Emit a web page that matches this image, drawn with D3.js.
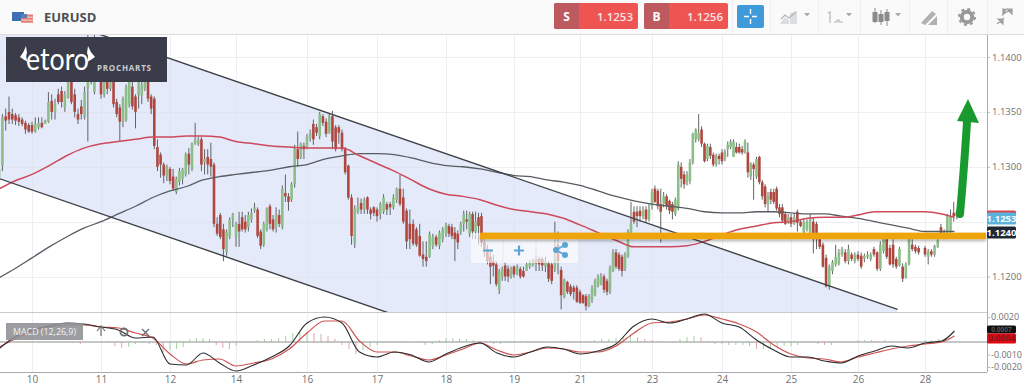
<!DOCTYPE html>
<html>
<head>
<meta charset="utf-8">
<script src="https://cdn.jsdelivr.net/npm/d3@7"></script>
<style>
  html, body { margin: 0; background: #fff; }
  svg { display: block; font-family: "Open Sans", sans-serif; }
</style>
</head>
<body>
<svg id="chart" width="1024" height="385"></svg>
<script>
// session labels on the time axis
const sessionLabels = ["10", "11", "12", "14", "16", "17", "18", "19", "21", "23", "24", "25", "26", "28"];
const gridPrices = [1.14, 1.135, 1.13, 1.125, 1.12];
// 1.1250 and 0.0010 sit under the price tags so they get no label
const priceTicks = [1.14, 1.135, 1.13, 1.12];
const macdTicks = [0.002, -0.001, -0.002];

// candles as [open, high, low, close], one array per session
const session09 = [
  [1.1290,1.1302,1.1268,1.1298],[1.1301,1.1348,1.1296,1.1345],[1.1346,1.1353,1.1333,1.1342],[1.1350,1.1364,1.1339,1.1343],
  [1.1348,1.1353,1.1339,1.1343],[1.1347,1.1349,1.1338,1.1342],[1.1345,1.1348,1.1337,1.1341],[1.1343,1.1345,1.1337,1.1339],
  [1.1340,1.1342,1.1330,1.1334],[1.1338,1.1340,1.1331,1.1332]];
const session10 = [
  [1.1338,1.1341,1.1330,1.1332],[1.1332,1.1345,1.1331,1.1339],[1.1336,1.1345,1.1334,1.1340],[1.1340,1.1345,1.1335,1.1336],
  [1.1339,1.1343,1.1339,1.1342],[1.1341,1.1368,1.1340,1.1359],[1.1360,1.1366,1.1343,1.1350],[1.1350,1.1362,1.1343,1.1357],
  [1.1366,1.1371,1.1357,1.1359],[1.1369,1.1373,1.1354,1.1359],[1.1354,1.1369,1.1350,1.1366],[1.1363,1.1385,1.1362,1.1380],
  [1.1389,1.1394,1.1357,1.1359],[1.1366,1.1371,1.1345,1.1350],[1.1348,1.1353,1.1339,1.1343],[1.1355,1.1361,1.1343,1.1348],
  [1.1345,1.1373,1.1343,1.1368],[1.1371,1.1420,1.1323,1.1385],[1.1388,1.1391,1.1375,1.1380],[1.1368,1.1420,1.1366,1.1388]];
const session11 = [
  [1.1385,1.1390,1.1362,1.1366],[1.1366,1.1390,1.1363,1.1385],[1.1388,1.1391,1.1366,1.1371],[1.1371,1.1394,1.1369,1.1390],
  [1.1382,1.1394,1.1354,1.1357],[1.1359,1.1362,1.1345,1.1348],[1.1354,1.1357,1.1323,1.1341],[1.1341,1.1364,1.1336,1.1362],
  [1.1343,1.1375,1.1341,1.1373],[1.1357,1.1380,1.1354,1.1378],[1.1373,1.1378,1.1352,1.1355],[1.1364,1.1366,1.1335,1.1350],
  [1.1365,1.1380,1.1353,1.1378],[1.1365,1.1378,1.1357,1.1375],[1.1371,1.1381,1.1369,1.1380],[1.1385,1.1387,1.1359,1.1362],
  [1.1364,1.1366,1.1348,1.1353],[1.1362,1.1364,1.1316,1.1319],[1.1318,1.1325,1.1296,1.1300],[1.1311,1.1313,1.1290,1.1302],
  [1.1302,1.1304,1.1285,1.1292],[1.1291,1.1302,1.1287,1.1300]];
const session12 = [
  [1.1298,1.1300,1.1284,1.1287],[1.1291,1.1298,1.1278,1.1280],[1.1277,1.1291,1.1275,1.1289],[1.1286,1.1299,1.1283,1.1296],
  [1.1289,1.1299,1.1284,1.1298],[1.1293,1.1313,1.1291,1.1311],[1.1312,1.1317,1.1293,1.1302],[1.1298,1.1322,1.1296,1.1321],
  [1.1321,1.1340,1.1320,1.1325],[1.1321,1.1327,1.1319,1.1324],[1.1325,1.1327,1.1296,1.1302],[1.1304,1.1316,1.1293,1.1307],
  [1.1309,1.1316,1.1293,1.1302],[1.1307,1.1322,1.1291,1.1300],[1.1302,1.1304,1.1245,1.1248],[1.1248,1.1254,1.1237,1.1239],
  [1.1256,1.1258,1.1234,1.1236],[1.1243,1.1248,1.1214,1.1225],[1.1222,1.1243,1.1219,1.1241],[1.1236,1.1254,1.1234,1.1252],
  [1.1252,1.1258,1.1245,1.1257]];
const session14 = [
  [1.1236,1.1250,1.1227,1.1248],[1.1248,1.1259,1.1227,1.1241],[1.1254,1.1259,1.1241,1.1243],[1.1250,1.1256,1.1240,1.1243],
  [1.1245,1.1259,1.1241,1.1256],[1.1252,1.1262,1.1249,1.1258],[1.1260,1.1267,1.1258,1.1263],[1.1261,1.1263,1.1235,1.1237],
  [1.1241,1.1243,1.1225,1.1228],[1.1229,1.1250,1.1227,1.1248],[1.1243,1.1263,1.1241,1.1262],[1.1264,1.1266,1.1243,1.1248],
  [1.1252,1.1256,1.1241,1.1243],[1.1245,1.1263,1.1240,1.1257],[1.1256,1.1261,1.1245,1.1248],[1.1245,1.1283,1.1243,1.1280],
  [1.1276,1.1293,1.1268,1.1273],[1.1273,1.1276,1.1260,1.1268],[1.1270,1.1286,1.1268,1.1284],[1.1284,1.1320,1.1281,1.1316],
  [1.1316,1.1332,1.1300,1.1307],[1.1309,1.1322,1.1307,1.1321],[1.1319,1.1322,1.1307,1.1316]];
const session16 = [
  [1.1318,1.1330,1.1316,1.1327],[1.1326,1.1334,1.1323,1.1331],[1.1339,1.1343,1.1320,1.1325],[1.1336,1.1339,1.1328,1.1331],
  [1.1328,1.1350,1.1325,1.1348],[1.1346,1.1348,1.1337,1.1340],[1.1341,1.1344,1.1327,1.1330],[1.1331,1.1348,1.1330,1.1346],
  [1.1346,1.1351,1.1316,1.1323],[1.1336,1.1338,1.1314,1.1316],[1.1336,1.1338,1.1321,1.1331],[1.1331,1.1334,1.1314,1.1316],
  [1.1316,1.1318,1.1293,1.1295],[1.1301,1.1302,1.1270,1.1272],[1.1272,1.1275,1.1229,1.1237],[1.1230,1.1265,1.1226,1.1262],
  [1.1259,1.1272,1.1257,1.1264],[1.1267,1.1271,1.1257,1.1261],[1.1261,1.1272,1.1257,1.1270],[1.1272,1.1273,1.1257,1.1261],
  [1.1261,1.1263,1.1252,1.1257],[1.1263,1.1264,1.1255,1.1258]];
const session17 = [
  [1.1261,1.1263,1.1250,1.1255],[1.1257,1.1268,1.1252,1.1266],[1.1259,1.1275,1.1257,1.1272],[1.1266,1.1268,1.1256,1.1261],
  [1.1266,1.1268,1.1256,1.1263],[1.1263,1.1275,1.1261,1.1272],[1.1270,1.1281,1.1267,1.1280],[1.1280,1.1293,1.1264,1.1266],
  [1.1272,1.1280,1.1248,1.1250],[1.1260,1.1262,1.1225,1.1232],[1.1248,1.1261,1.1225,1.1234],[1.1248,1.1252,1.1228,1.1230],
  [1.1243,1.1245,1.1227,1.1229],[1.1237,1.1248,1.1218,1.1219],[1.1220,1.1232,1.1209,1.1216],[1.1218,1.1232,1.1209,1.1214],
  [1.1218,1.1241,1.1217,1.1239],[1.1228,1.1239,1.1225,1.1236],[1.1236,1.1238,1.1227,1.1229],[1.1228,1.1242,1.1225,1.1240],
  [1.1234,1.1245,1.1231,1.1243]];
const session18 = [
  [1.1239,1.1249,1.1236,1.1247],[1.1246,1.1248,1.1236,1.1239],[1.1245,1.1248,1.1234,1.1237],[1.1240,1.1245,1.1214,1.1234],
  [1.1239,1.1242,1.1225,1.1231],[1.1241,1.1250,1.1238,1.1248],[1.1248,1.1260,1.1241,1.1257],[1.1252,1.1260,1.1243,1.1250],
  [1.1239,1.1259,1.1236,1.1257],[1.1257,1.1259,1.1234,1.1241],[1.1241,1.1259,1.1234,1.1250],[1.1254,1.1258,1.1229,1.1246],
  [1.1255,1.1258,1.1227,1.1231],[1.1231,1.1238,1.1218,1.1225],[1.1225,1.1229,1.1211,1.1214],[1.1218,1.1225,1.1193,1.1209],
  [1.1214,1.1220,1.1200,1.1210],[1.1211,1.1214,1.1191,1.1193],[1.1188,1.1207,1.1184,1.1205],[1.1200,1.1209,1.1196,1.1207],
  [1.1210,1.1213,1.1196,1.1200],[1.1207,1.1210,1.1195,1.1200],[1.1200,1.1209,1.1198,1.1207]];
const session19 = [
  [1.1209,1.1210,1.1199,1.1202],[1.1203,1.1211,1.1201,1.1209],[1.1207,1.1209,1.1198,1.1200],[1.1205,1.1209,1.1199,1.1200],
  [1.1205,1.1213,1.1205,1.1211],[1.1209,1.1215,1.1207,1.1213],[1.1210,1.1216,1.1209,1.1214],[1.1216,1.1220,1.1205,1.1212],
  [1.1216,1.1218,1.1205,1.1211],[1.1216,1.1218,1.1205,1.1210],[1.1209,1.1218,1.1204,1.1214],[1.1212,1.1214,1.1195,1.1198],
  [1.1211,1.1213,1.1193,1.1196],[1.1207,1.1250,1.1204,1.1218],[1.1229,1.1241,1.1202,1.1214],[1.1206,1.1209,1.1170,1.1183],
  [1.1181,1.1198,1.1180,1.1197],[1.1195,1.1196,1.1184,1.1186],[1.1191,1.1193,1.1182,1.1184],[1.1190,1.1192,1.1179,1.1186],
  [1.1190,1.1192,1.1176,1.1177]];
const session21 = [
  [1.1186,1.1188,1.1175,1.1176],[1.1183,1.1184,1.1175,1.1176],[1.1182,1.1184,1.1169,1.1173],[1.1173,1.1184,1.1172,1.1182],
  [1.1179,1.1192,1.1176,1.1189],[1.1184,1.1198,1.1182,1.1196],[1.1191,1.1202,1.1190,1.1200],[1.1193,1.1203,1.1192,1.1200],
  [1.1200,1.1202,1.1185,1.1188],[1.1196,1.1198,1.1183,1.1186],[1.1187,1.1210,1.1184,1.1208],[1.1205,1.1225,1.1204,1.1222],
  [1.1222,1.1225,1.1207,1.1209],[1.1220,1.1222,1.1205,1.1207],[1.1218,1.1220,1.1200,1.1205],[1.1207,1.1222,1.1205,1.1220],
  [1.1218,1.1243,1.1217,1.1241],[1.1239,1.1268,1.1237,1.1248],[1.1259,1.1264,1.1248,1.1250],[1.1259,1.1264,1.1245,1.1255],
  [1.1260,1.1264,1.1250,1.1255],[1.1255,1.1264,1.1252,1.1260],[1.1261,1.1264,1.1249,1.1252],[1.1252,1.1266,1.1250,1.1261]];
const session23 = [
  [1.1264,1.1280,1.1261,1.1277],[1.1280,1.1283,1.1267,1.1268],[1.1278,1.1280,1.1261,1.1264],[1.1266,1.1280,1.1231,1.1259],
  [1.1266,1.1277,1.1263,1.1273],[1.1273,1.1275,1.1261,1.1264],[1.1269,1.1270,1.1257,1.1260],[1.1266,1.1268,1.1252,1.1259],
  [1.1257,1.1272,1.1255,1.1270],[1.1262,1.1305,1.1260,1.1302],[1.1300,1.1304,1.1281,1.1289],[1.1293,1.1296,1.1280,1.1284],
  [1.1286,1.1296,1.1283,1.1293],[1.1287,1.1307,1.1284,1.1304],[1.1304,1.1331,1.1302,1.1330],[1.1325,1.1335,1.1322,1.1334],
  [1.1325,1.1348,1.1323,1.1331],[1.1334,1.1337,1.1318,1.1321],[1.1321,1.1322,1.1304,1.1305],[1.1307,1.1321,1.1305,1.1319],
  [1.1318,1.1321,1.1307,1.1310],[1.1311,1.1313,1.1300,1.1302],[1.1302,1.1312,1.1300,1.1310],[1.1310,1.1312,1.1302,1.1307]];
const session24 = [
  [1.1313,1.1316,1.1302,1.1305],[1.1307,1.1316,1.1305,1.1314],[1.1316,1.1323,1.1309,1.1320],[1.1318,1.1325,1.1316,1.1323],
  [1.1309,1.1325,1.1309,1.1323],[1.1318,1.1322,1.1312,1.1313],[1.1318,1.1321,1.1312,1.1313],[1.1316,1.1319,1.1311,1.1313],
  [1.1313,1.1325,1.1312,1.1323],[1.1313,1.1322,1.1290,1.1295],[1.1291,1.1304,1.1288,1.1303],[1.1302,1.1304,1.1270,1.1298],
  [1.1291,1.1309,1.1289,1.1307],[1.1309,1.1310,1.1284,1.1286],[1.1286,1.1288,1.1270,1.1273],[1.1282,1.1284,1.1263,1.1266],
  [1.1266,1.1277,1.1259,1.1273],[1.1277,1.1280,1.1266,1.1270],[1.1277,1.1280,1.1266,1.1268],[1.1280,1.1282,1.1260,1.1262],
  [1.1263,1.1266,1.1254,1.1257],[1.1263,1.1266,1.1249,1.1251],[1.1257,1.1259,1.1247,1.1248],[1.1250,1.1257,1.1248,1.1254]];
const session25 = [
  [1.1254,1.1257,1.1245,1.1248],[1.1248,1.1257,1.1247,1.1254],[1.1259,1.1261,1.1241,1.1249],[1.1250,1.1252,1.1245,1.1246],
  [1.1240,1.1252,1.1238,1.1250],[1.1243,1.1252,1.1241,1.1250],[1.1240,1.1257,1.1238,1.1254],[1.1250,1.1254,1.1221,1.1234],
  [1.1248,1.1250,1.1225,1.1234],[1.1234,1.1238,1.1225,1.1227],[1.1229,1.1231,1.1208,1.1209],[1.1217,1.1220,1.1190,1.1191],
  [1.1191,1.1211,1.1188,1.1209],[1.1205,1.1215,1.1202,1.1213],[1.1211,1.1229,1.1209,1.1218],[1.1211,1.1225,1.1210,1.1222],
  [1.1220,1.1227,1.1218,1.1225],[1.1222,1.1225,1.1212,1.1214],[1.1214,1.1229,1.1211,1.1225],[1.1220,1.1222,1.1214,1.1216],
  [1.1214,1.1222,1.1212,1.1220]];
const session26 = [
  [1.1220,1.1223,1.1214,1.1216],[1.1219,1.1222,1.1207,1.1209],[1.1216,1.1221,1.1213,1.1219],[1.1218,1.1223,1.1216,1.1220],
  [1.1216,1.1222,1.1214,1.1220],[1.1225,1.1227,1.1218,1.1220],[1.1222,1.1223,1.1205,1.1207],[1.1207,1.1232,1.1205,1.1229],
  [1.1223,1.1236,1.1221,1.1234],[1.1234,1.1239,1.1216,1.1218],[1.1226,1.1229,1.1210,1.1211],[1.1229,1.1234,1.1208,1.1211],
  [1.1216,1.1218,1.1207,1.1209],[1.1210,1.1227,1.1209,1.1225],[1.1209,1.1212,1.1195,1.1198],[1.1199,1.1213,1.1198,1.1211],
  [1.1211,1.1236,1.1210,1.1234],[1.1229,1.1234,1.1223,1.1225],[1.1227,1.1229,1.1221,1.1223],[1.1226,1.1228,1.1220,1.1222]];
const session28 = [
  [1.1226,1.1228,1.1218,1.1220],[1.1218,1.1225,1.1211,1.1223],[1.1223,1.1225,1.1218,1.1220],[1.1220,1.1229,1.1218,1.1228],
  [1.1227,1.1234,1.1226,1.1233],[1.1245,1.1248,1.1236,1.1239],[1.1239,1.1243,1.1234,1.1241],[1.1240,1.1257,1.1237,1.1255],
  [1.1241,1.1261,1.1239,1.1255],[1.1258,1.1268,1.1250,1.1255],[1.1259,1.1261,1.1252,1.1255]];

// moving averages, one value per quarter session starting half a session before "10"
const slowAverage = [
  1.1198,1.1207,1.1217,1.1227,1.1236,1.1244,1.1250,1.1257,1.1264,1.1272,1.1278,1.1282,1.1288,1.1291,1.1293,1.1295,
  1.1297,1.1300,1.1302,1.1307,1.1310,1.1312,1.1312,1.1311,1.1308,1.1304,1.1301,1.1300,1.1298,1.1295,1.1292,1.1291,
  1.1288,1.1286,1.1283,1.1278,1.1273,1.1269,1.1266,1.1264,1.1262,1.1259,1.1258,1.1258,1.1259,1.1259,1.1258,1.1257,
  1.1257,1.1255,1.1253,1.1250,1.1247,1.1244,1.1241,1.1241,1.1241];
const fastAverage = [
  1.1279,1.1287,1.1293,1.1301,1.1310,1.1317,1.1321,1.1323,1.1325,1.1327,1.1327,1.1328,1.1328,1.1327,1.1323,1.1321,
  1.1319,1.1318,1.1317,1.1317,1.1317,1.1310,1.1303,1.1296,1.1288,1.1280,1.1275,1.1273,1.1270,1.1265,1.1261,1.1259,
  1.1257,1.1253,1.1247,1.1240,1.1233,1.1227,1.1227,1.1227,1.1228,1.1232,1.1238,1.1243,1.1246,1.1249,1.1250,1.1253,
  1.1254,1.1254,1.1256,1.1259,1.1259,1.1259,1.1259,1.1257,1.1254];

// MACD pane, same quarter session sampling
const macdLine = [
  -.00064,.0004,.00096,.00128,.00152,.00144,.0012,.00096,.00032,.0004,-.00176,-.00184,-.00088,-.00168,-.00232,-.00184,
  -.0012,-.00032,.00152,.002,.00152,-.0008,-.0012,-.0008,-.00104,-.0016,-.00096,-.0004,-.00008,-.00088,-.0012,-.0008,
  -.0004,-.00056,-.00096,-.00072,-.00016,.00128,.00184,.00152,.00184,.00224,.00152,.0012,.00016,-.00064,-.0012,-.0012,
  -.00152,-.00168,-.00112,-.00072,-.00032,-.00048,-.00008,.00008,.00088];
const signalLine = [
  -.00048,.00024,.00088,.0012,.00136,.00136,.0012,.00112,.00072,.00032,-.00096,-.00176,-.00144,-.00136,-.00192,-.00168,
  -.00136,-.00056,.00072,.00168,.00168,.00008,-.0008,-.0008,-.00112,-.00144,-.00104,-.00056,-.00008,-.00064,-.00104,-.0008,
  -.00048,-.00056,-.0008,-.0008,-.00032,.00072,.00152,.0016,.00184,.00216,.00184,.00144,.0008,-.00024,-.00096,-.00128,
  -.00136,-.0016,-.0012,-.00088,-.00056,-.00032,-.00016,0,.00048];
// histogram in units of 0.00001, ten bars per session
const macdHistogram = [
  0,0,0,8,0,
  0,8,8,0,0,-8,-8,-16,0,0,
  0,-8,-32,-48,-40,-16,-8,-16,-24,-80,
  -64,-56,-40,24,32,32,24,-24,-48,-56,
  -32,-8,8,16,24,24,32,48,72,80,
  80,72,64,48,24,-24,-56,-96,-64,-40,
  -24,-8,0,8,8,0,-8,-24,-16,16,
  32,32,24,24,16,8,-8,-16,-16,-8,
  8,8,8,8,8,0,0,8,8,8,
  8,8,16,24,24,32,48,56,40,24,
  16,8,0,-8,24,40,48,40,-8,-16,
  -16,-24,-24,-24,-32,-56,-56,-48,-40,-32,
  -32,-24,-8,-8,-16,-24,-24,-8,8,8,
  16,16,16,8,16,8,8,8,8,8,
  16,16,24,24];

// channel drawn on the chart: session position and price of its two ends
const channelTimes = [-0.466, 12.59];
const channelUpper = [1.1452, 1.1170];
const channelLower = [1.1289, 1.1007];
const supportPrice = 1.1237;
const supportStart = 6.5;

const sessions = [session09, session10, session11, session12, session14, session16, session17, session18,
  session19, session21, session23, session24, session25, session26, session28];

const svg = d3.select("#chart");
const paneLeft = 0, paneRight = 987;
const mainTop = 35, mainBottom = 312, macdBottom = 372;
const perSession = 21;

// scales, the sessions are not quite evenly spaced on the axis
const x = d3.scaleLinear()
  .domain(d3.range(sessionLabels.length))
  .range([32, 101, 170, 236, 307, 377, 446, 514, 580, 652, 722, 791, 858, 925]);
const y = d3.scaleLinear().domain([1.14, 1.12]).range([57, 276.5]);
const yMacd = d3.scaleLinear().domain([0.002, -0.002]).range([317, 367]);

// flatten sessions to candles with a position in session units
const candles = sessions.flatMap((rows, k) =>
  rows.map(([open, high, low, close], j) => ({
    open, high, low, close,
    t: k === 0 ? (j - rows.length) / perSession : k - 1 + j / Math.max(rows.length, perSession),
  }))
);
const lineTime = (i) => Math.min(-0.5 + i * 0.25, 13.44);

const defs = svg.append("defs");
defs.append("clipPath").attr("id", "main-clip").append("rect")
  .attr("x", paneLeft).attr("y", mainTop).attr("width", paneRight - paneLeft).attr("height", mainBottom - mainTop);
defs.append("clipPath").attr("id", "macd-clip").append("rect")
  .attr("x", paneLeft).attr("y", mainBottom).attr("width", paneRight - paneLeft).attr("height", macdBottom - mainBottom);
const shadow = defs.append("filter").attr("id", "soft").attr("y", "-50%").attr("height", "250%");
shadow.append("feDropShadow").attr("dx", 0).attr("dy", 2).attr("stdDeviation", 1.5).attr("flood-color", "#000").attr("flood-opacity", 0.3);

// main pane
const main = svg.append("g").attr("clip-path", "url(#main-clip)");

main.append("polygon")
  .attr("points", [
    [x(channelTimes[0]), y(channelUpper[0])], [x(channelTimes[1]), y(channelUpper[1])],
    [x(channelTimes[1]), y(channelLower[1])], [x(channelTimes[0]), y(channelLower[0])],
  ].map((p) => p.join(",")).join(" "))
  .attr("fill", "#c3d1f2").attr("fill-opacity", 0.45);

// grid, very faint, over the channel fill
const grid = svg.append("g").attr("stroke", "#dfe2e8").attr("stroke-width", 1).attr("opacity", 0.55);
grid.selectAll("line.v").data(d3.range(sessionLabels.length)).enter().append("line")
  .attr("x1", (d) => x(d) + 0.5).attr("x2", (d) => x(d) + 0.5).attr("y1", mainTop).attr("y2", macdBottom);
grid.selectAll("line.h").data(gridPrices).enter().append("line")
  .attr("x1", paneLeft).attr("x2", paneRight).attr("y1", (d) => Math.round(y(d)) + 0.5).attr("y2", (d) => Math.round(y(d)) + 0.5);

const marks = svg.append("g").attr("clip-path", "url(#main-clip)");
const candleGroups = marks.selectAll("g.candle").data(candles).enter().append("g").attr("class", "candle");
candleGroups.append("line")
  .attr("x1", (d) => x(d.t)).attr("x2", (d) => x(d.t))
  .attr("y1", (d) => y(d.high)).attr("y2", (d) => y(d.low))
  .attr("stroke", "#5f6467").attr("stroke-width", 1);
candleGroups.append("rect")
  .attr("x", (d) => x(d.t) - 1.3).attr("width", 2.6)
  .attr("y", (d) => y(Math.max(d.open, d.close)))
  .attr("height", (d) => Math.max(1, Math.abs(y(d.open) - y(d.close))))
  .attr("fill", (d) => (d.close >= d.open ? "#8dbd88" : "#b0473f"));

const priceLine = d3.line()
  .x((d, i) => x(lineTime(i)))
  .y((d) => y(d))
  .curve(d3.curveMonotoneX);

marks.append("path").attr("d", priceLine(slowAverage)).attr("fill", "none").attr("stroke", "#585d63").attr("stroke-width", 1.3);
marks.append("path").attr("d", priceLine(fastAverage)).attr("fill", "none").attr("stroke", "#cd4a5c").attr("stroke-width", 1.5);

const channelLine = (prices) => d3.line().x((d, i) => x(channelTimes[i])).y((d) => y(d))(prices);
marks.append("path").attr("d", channelLine(channelUpper)).attr("fill", "none").attr("stroke", "#3e4247").attr("stroke-width", 1.4);
marks.append("path").attr("d", channelLine(channelLower)).attr("fill", "none").attr("stroke", "#3e4247").attr("stroke-width", 1.4);

// MACD pane
const macd = svg.append("g").attr("clip-path", "url(#macd-clip)");
macd.append("line").attr("x1", paneLeft).attr("x2", paneRight).attr("y1", yMacd(0)).attr("y2", yMacd(0))
  .attr("stroke", "#8c8f8f").attr("stroke-width", 1.2);
macd.selectAll("line.hist").data(macdHistogram).enter().append("line")
  .attr("class", "hist")
  .attr("x1", (d, i) => x(-0.5 + i / 10)).attr("x2", (d, i) => x(-0.5 + i / 10))
  .attr("y1", yMacd(0)).attr("y2", (d) => yMacd(d * 1e-5))
  .attr("stroke", (d, i) => (i === 0 || d >= macdHistogram[i - 1] ? "#8fc58a" : "#dc8f8f"))
  .attr("stroke-width", 1).attr("opacity", 0.8);
const macdPath = d3.line().x((d, i) => x(lineTime(i))).y((d) => yMacd(d)).curve(d3.curveMonotoneX);
macd.append("path").attr("d", macdPath(signalLine)).attr("fill", "none").attr("stroke", "#cf5252").attr("stroke-width", 1.2);
macd.append("path").attr("d", macdPath(macdLine)).attr("fill", "none").attr("stroke", "#2c2c2c").attr("stroke-width", 1.1);

// pane borders and axes
svg.append("line").attr("x1", 0).attr("x2", paneRight).attr("y1", mainBottom + 0.5).attr("y2", mainBottom + 0.5).attr("stroke", "#c9cbcf");
svg.append("line").attr("x1", 0).attr("x2", paneRight).attr("y1", macdBottom + 0.5).attr("y2", macdBottom + 0.5).attr("stroke", "#a9abae");
svg.append("line").attr("x1", paneRight + 0.5).attr("x2", paneRight + 0.5).attr("y1", mainTop).attr("y2", macdBottom).attr("stroke", "#a9abae");

const styleAxis = (g) => {
  g.select(".domain").remove();
  g.selectAll("line").attr("stroke", "#b5b7ba");
  g.selectAll("text").attr("fill", "#6e7174").attr("font-family", "'Open Sans', sans-serif").attr("font-size", 9.5);
};
svg.append("g").attr("transform", `translate(${paneRight},0)`)
  .call(d3.axisRight(y).tickValues(priceTicks).tickSize(3).tickPadding(2).tickFormat(d3.format(".4f")))
  .call(styleAxis);
svg.append("g").attr("transform", `translate(${paneRight},0)`)
  .call(d3.axisRight(yMacd).tickValues(macdTicks).tickSize(3).tickPadding(1).tickFormat((d) => d3.format(".4f")(d).replace("\u2212", "-")))
  .call(styleAxis)
  .call((g) => g.selectAll("text").attr("font-size", 9));
svg.append("g").attr("transform", `translate(0,${macdBottom})`)
  .call(d3.axisBottom(x).tickValues(d3.range(sessionLabels.length)).tickSize(0).tickPadding(4).tickFormat((d) => sessionLabels[d]))
  .call(styleAxis)
  .call((g) => g.selectAll("text").attr("font-size", 10));

// MACD legend
svg.append("rect").attr("x", 6).attr("y", 323).attr("width", 77).attr("height", 17).attr("fill", "#8e9093").attr("opacity", 0.88);
svg.append("text").attr("x", 13).attr("y", 335).attr("fill", "#f4f4f4").attr("font-size", 9.5)
  .attr("textLength", 63).attr("lengthAdjust", "spacingAndGlyphs").text("MACD (12,26,9)");
const legendIcons = svg.append("g").attr("fill", "none").attr("stroke", "#6b6e72").attr("stroke-width", 1.2);
legendIcons.append("path").attr("d", "M101 336V328M97 331L101 326L105 331");
legendIcons.append("circle").attr("cx", 124).attr("cy", 332).attr("r", 3.6).attr("stroke-width", 1.8);
legendIcons.append("path").attr("d", "M142 329L149 336M149 329L142 336").attr("stroke-width", 1.4);

// zoom buttons on the chart
const zoomPanel = svg.append("g");
zoomPanel.append("rect").attr("x", 471).attr("y", 233).attr("width", 107).attr("height", 30).attr("rx", 2).attr("fill", "#fff").attr("opacity", 0.62);
zoomPanel.selectAll("line").data([503, 536]).enter().append("line")
  .attr("x1", (d) => d).attr("x2", (d) => d).attr("y1", 240).attr("y2", 263).attr("stroke", "#e6e8ee");
zoomPanel.append("path").attr("d", "M483 250.5H493M514 250.5H524M519 245.5V255.5").attr("stroke", "#5ba5d6").attr("stroke-width", 2.2).attr("fill", "none");
zoomPanel.append("path").attr("d", "M556 250L565 245M556 250L565 255").attr("stroke", "#5ba5d6").attr("stroke-width", 1.6);
zoomPanel.selectAll("circle").data([[556, 250], [565, 245], [565, 255]]).enter().append("circle")
  .attr("cx", (d) => d[0]).attr("cy", (d) => d[1]).attr("r", 3).attr("fill", "#5ba5d6");

// support line and arrow drawn by hand on the screenshot
svg.append("rect")
  .attr("x", x(supportStart)).attr("width", paneRight - 1 - x(supportStart))
  .attr("y", y(supportPrice) - 3.25).attr("height", 6.5)
  .attr("fill", "#eea50c").attr("filter", "url(#soft)");
svg.append("path").attr("d", "M960 214Q964 170 967 122").attr("fill", "none").attr("stroke", "#189a2e").attr("stroke-width", 8).attr("stroke-linecap", "round");
svg.append("path").attr("d", "M968 99L979 123L957 121Z").attr("fill", "#189a2e");

// price tags on the axis
const tag = (top, height, fill, label, color, size) => {
  svg.append("rect").attr("x", paneRight).attr("y", top).attr("width", 29).attr("height", height).attr("rx", 1.5).attr("fill", fill);
  if (label) {
    svg.append("text").attr("x", paneRight + 14.5).attr("y", top + height / 2 + size * 0.35).attr("text-anchor", "middle")
      .attr("fill", color).attr("font-size", size).attr("font-weight", 700).text(label);
  }
};
tag(210.5, 4, "#d8454f");
tag(212.5, 12, "#5bb3dd", "1.1253", "#f5fbff", 9.5);
tag(226.5, 12, "#1d2832", "1.1240", "#fff", 9.5);
tag(325.5, 8, "#111", "0.0007", "#555", 6.5);
tag(333.5, 10, "#e30613", "0.0004", "#7a1b1f", 8.5);

// header bar
const header = svg.append("g");
header.append("rect").attr("width", 1024).attr("height", 34).attr("fill", "#fafafa");
header.append("line").attr("x1", 0).attr("x2", 1024).attr("y1", 34.5).attr("y2", 34.5).attr("stroke", "#dcdcdc");
header.selectAll("line.sep").data([732, 770, 818, 860, 909, 947, 987]).enter().append("line")
  .attr("class", "sep").attr("x1", (d) => d + 0.5).attr("x2", (d) => d + 0.5).attr("y1", 0).attr("y2", 34).attr("stroke", "#efefef");
header.append("rect").attr("x", 12).attr("y", 12).attr("width", 12).attr("height", 9).attr("fill", "#3d6fb5");
header.append("rect").attr("x", 21).attr("y", 14).attr("width", 12).attr("height", 9).attr("fill", "#f2b8b0");
header.selectAll("rect.stripe").data([15, 18, 21]).enter().append("rect").attr("class", "stripe")
  .attr("x", 21).attr("y", (d) => d).attr("width", 12).attr("height", 1.4).attr("fill", "#e07a70");
header.append("rect").attr("x", 21).attr("y", 14).attr("width", 6).attr("height", 4).attr("fill", "#5a7fb8");
header.append("text").attr("x", 44).attr("y", 22).attr("fill", "#4d4f52").attr("font-size", 13).attr("font-weight", 700).text("EURUSD");

const quote = (left, letter, value) => {
  header.append("rect").attr("x", left).attr("y", 3).attr("width", 84).attr("height", 26).attr("rx", 2).attr("fill", "#ee5552");
  header.append("path").attr("d", `M${left + 2} 3H${left + 25}V29H${left + 2}Q${left} 29 ${left} 27V5Q${left} 3 ${left + 2} 3Z`).attr("fill", "#bd5a60");
  header.append("text").attr("x", left + 12.5).attr("y", 21).attr("text-anchor", "middle").attr("fill", "#fff").attr("font-size", 12).attr("font-weight", 700).text(letter);
  header.append("text").attr("x", left + 61).attr("y", 21).attr("text-anchor", "middle").attr("fill", "#fbe3e3").attr("font-size", 11.5).attr("font-weight", 600).text(value);
};
quote(554, "S", "1.1253");
quote(644, "B", "1.1256");

header.append("rect").attr("x", 737).attr("y", 5).attr("width", 27).attr("height", 23).attr("rx", 2).attr("fill", "#3f9ad9");
header.append("path").attr("d", "M744 16.5H749M752 16.5H757M750.5 9V14M750.5 19V24").attr("stroke", "#fff").attr("stroke-width", 1.4);

const iconGrey = "#b4b6b8";
header.append("path").attr("d", "M780 24L785 17L789 20V24ZM790 24V13L797 11V24Z").attr("fill", "#dcdddf");
header.append("path").attr("d", "M781 19L785 15L789 18L796 12").attr("fill", "none").attr("stroke", iconGrey).attr("stroke-width", 1.2);
header.append("path").attr("d", "M828 13L830 12V23M834 22H837V20H839V22H843").attr("fill", "none").attr("stroke", iconGrey).attr("stroke-width", 1.2);
header.selectAll("path.caret").data([807, 849, 898]).enter().append("path").attr("class", "caret")
  .attr("d", (d) => `M${d - 3} 13H${d + 3}L${d} 16.5Z`).attr("fill", "#a8aaac");
header.selectAll("g.mini").data([[875, 12, 10, 8, 23], [881, 14, 8, 10, 25], [887, 12, 9, 9, 26]]).enter().append("g").attr("class", "mini")
  .each(function (d) {
    d3.select(this).append("line").attr("x1", d[0]).attr("x2", d[0]).attr("y1", d[3]).attr("y2", d[4]).attr("stroke", "#8a8c8e");
    d3.select(this).append("rect").attr("x", d[0] - 2.5).attr("y", d[1]).attr("width", 5).attr("height", d[2]).attr("fill", "#8a8c8e");
  });
header.append("path").attr("d", "M921 23L932 11L936 14L925 25ZM928 25L937 16V25Z").attr("fill", "#b0b2b4");
header.append("circle").attr("cx", 967).attr("cy", 17).attr("r", 5.2).attr("fill", "none").attr("stroke", "#98999b").attr("stroke-width", 4);
header.append("circle").attr("cx", 967).attr("cy", 17).attr("r", 8).attr("fill", "none").attr("stroke", "#98999b").attr("stroke-width", 2).attr("stroke-dasharray", "3 3.3");
header.append("path").attr("d", "M1002 15L1011 9M1006 9.5L1003 9V14.5ZM1007 9H1012V14Z M997 24L1004 18M998 19H1003V24Z").attr("fill", "#9c9ea0").attr("stroke", "#9c9ea0").attr("stroke-width", 1.2);

// logo
const logo = svg.append("g");
logo.append("rect").attr("x", 6).attr("y", 37).attr("width", 161).attr("height", 45).attr("fill", "#3a3d49");
logo.append("text").attr("x", 26).attr("y", 70).attr("fill", "#fff").attr("font-family", "Lato, sans-serif").attr("font-size", 30)
  .attr("textLength", 63).attr("lengthAdjust", "spacingAndGlyphs").text("etoro");
logo.append("path").attr("d", "M26 46Q24 52 20 57Q24 60 28 62Q25 57 27 53Z M88 46Q90 52 95 57Q91 60 87 62Q89 57 87 53Z").attr("fill", "#fff");
logo.append("text").attr("x", 97).attr("y", 71).attr("fill", "#c9ccd2").attr("font-size", 8).attr("font-weight", 700)
  .attr("textLength", 54).text("PROCHARTS");
</script>
</body>
</html>
